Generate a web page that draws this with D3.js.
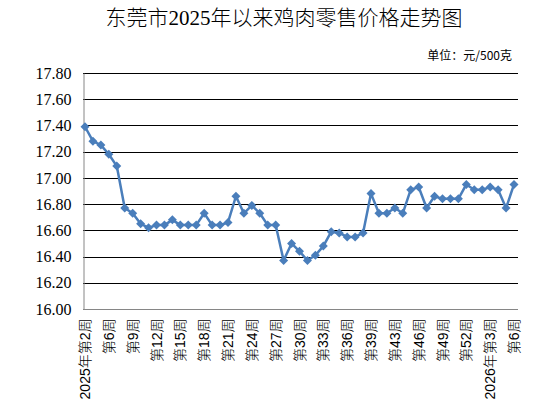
<!DOCTYPE html>
<html><head><meta charset="utf-8">
<script src="https://cdn.jsdelivr.net/npm/d3@7"></script>
<style>body{margin:0;background:#fff}svg{display:block}</style>
</head><body><svg id="c" width="554" height="418"></svg>
<script>
const categories = [
"2025年第2周","2025年第3周","2025年第4周","2025年第6周","2025年第7周","2025年第8周","2025年第9周",
"2025年第10周","2025年第11周","2025年第12周","2025年第13周","2025年第14周","2025年第15周","2025年第16周",
"2025年第17周","2025年第18周","2025年第19周","2025年第20周","2025年第21周","2025年第22周","2025年第23周",
"2025年第24周","2025年第25周","2025年第26周","2025年第27周","2025年第28周","2025年第29周","2025年第30周",
"2025年第31周","2025年第32周","2025年第33周","2025年第34周","2025年第35周","2025年第36周","2025年第37周",
"2025年第38周","2025年第39周","2025年第41周","2025年第42周","2025年第43周","2025年第44周","2025年第45周",
"2025年第46周","2025年第47周","2025年第48周","2025年第49周","2025年第50周","2025年第51周","2025年第52周",
"2026年第1周","2026年第2周","2026年第3周","2026年第4周","2026年第5周","2026年第6周"];
const prices = [
17.39,17.28,17.25,17.18,17.09,16.77,16.73,16.65,16.62,16.64,16.64,16.68,16.64,16.64,
16.64,16.73,16.64,16.64,16.66,16.86,16.73,16.79,16.73,16.64,16.64,16.37,16.50,16.44,
16.37,16.41,16.48,16.59,16.58,16.55,16.55,16.58,16.88,16.73,16.73,16.77,16.73,16.91,
16.93,16.77,16.86,16.84,16.84,16.84,16.95,16.91,16.91,16.93,16.91,16.77,16.95];
const yTicks = [16.0,16.2,16.4,16.6,16.8,17.0,17.2,17.4,17.6,17.8];
const tickLabels = ["2025年第2周","第6周","第9周","第12周","第15周","第18周","第21周","第24周","第27周",
"第30周","第33周","第36周","第39周","第43周","第46周","第49周","第52周","2026年第3周","第6周"];
const title = "东莞市2025年以来鸡肉零售价格走势图";
const unitText = "单位：元/500克";

const svg = d3.select("#c");
const L = 83, R = 518, T = 73, B = 309;
const x = d3.scalePoint().domain(categories).range([85, 514]);
const y = d3.scaleLinear().domain([16.0, 17.8]).range([B, T]);

svg.append("text").attr("x", 284).attr("y", 25).attr("text-anchor", "middle")
  .style("font-family", "'Liberation Serif','Noto Sans CJK SC'").style("font-size", "21px").style("font-weight", 300)
  .text(title);
svg.append("text").attr("x", 512).attr("y", 60).attr("text-anchor", "end")
  .style("font-family", "'Noto Sans CJK SC'").style("font-size", "12px")
  .text(unitText);

// gridlines
svg.append("g").selectAll("line").data(yTicks.slice(1)).join("line")
  .attr("x1", L).attr("x2", R).attr("y1", d => Math.round(y(d)) + 0.5).attr("y2", d => Math.round(y(d)) + 0.5)
  .attr("stroke", "#000").attr("stroke-width", 1);

// y axis
const ya = svg.append("g").attr("transform", `translate(${L + 0.5},0)`)
  .call(d3.axisLeft(y).tickValues(yTicks).tickFormat(d3.format(".2f")).tickSize(0).tickPadding(12));
ya.select(".domain").attr("stroke", "#868686");
ya.selectAll("text").style("font-family", "'Liberation Serif'").style("font-size", "16px").attr("fill", "#000");

// x axis
const shown = categories.filter((d, i) => i % 3 === 0);
const xa = svg.append("g").attr("transform", `translate(0,${B + 0.5})`)
  .call(d3.axisBottom(x).tickValues(shown).tickFormat((d, i) => tickLabels[i]).tickSize(0).tickPadding(0));
xa.select(".domain").attr("d", `M${L},0H${R}`).attr("stroke", "#868686");
xa.selectAll("text")
  .attr("transform", "rotate(-90)")
  .attr("text-anchor", "end").attr("x", -9).attr("y", 0).attr("dy", "0.33em")
  .style("font-family", "'Liberation Sans','Noto Sans CJK SC'").style("font-size", "14px").style("font-weight", 300).attr("fill", "#000");

// line
const color = "#4A7EBB";
svg.append("path").datum(prices)
  .attr("d", d3.line().x((d, i) => x(categories[i])).y(d => y(d)))
  .attr("fill", "none").attr("stroke", color).attr("stroke-width", 2.5).attr("stroke-linejoin", "round");
svg.append("g").selectAll("path").data(prices).join("path")
  .attr("transform", (d, i) => `translate(${x(categories[i])},${y(d)})`)
  .attr("d", "M0,-4.5L4.5,0L0,4.5L-4.5,0Z").attr("fill", color);
</script></body></html>
